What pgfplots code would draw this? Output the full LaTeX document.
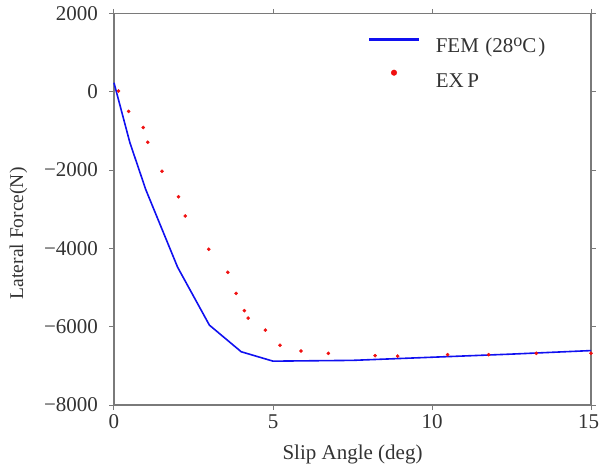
\documentclass[border=0pt]{standalone}
\usepackage{fontspec}
\setmainfont{Liberation Serif}
\usepackage{pgfplots}
\pgfplotsset{compat=1.18}
\definecolor{axisgray}{HTML}{7A7A7A}
\definecolor{labelgray}{HTML}{333333}
\definecolor{femblue}{HTML}{1010F0}
\definecolor{expred}{HTML}{F01010}
\newcommand{\bigfont}{\fontsize{21}{24}\selectfont}
\pgfplotsset{
  femlegend/.style={legend image code/.code={\fill[femblue] (0pt,5.4pt) rectangle (48pt,6.6pt);}},
  explegend/.style={legend image code/.code={\fill[expred] (24pt,9pt) circle (2.8pt);}},
}

\begin{document}
\begin{tikzpicture}
  \path[use as bounding box] (-114pt,-63pt) rectangle (485pt,405pt);
  \begin{axis}[
      at={(0,0)}, anchor=south west,
      scale only axis,
      width=477pt, height=391.5pt,
      xmin=0, xmax=15, ymin=-8000, ymax=2000,
      xtick={0,5,10,15},
      xticklabels={0,5,10,\hspace*{-5pt}15},
      ytick={-8000,-6000,-4000,-2000,0,2000},
      yticklabels={−8000,−6000,−4000,−2000,0,2000},
      /pgf/number format/assume math mode=true,
      scaled ticks=false,
      tick align=outside,
      major tick length=4.5pt,
      axis line style={axisgray, line width=1.2pt},
      tick style={axisgray, line width=1pt},
      tick label style={font=\bigfont, text=labelgray},
      yticklabel style={xshift=-8pt},
      xticklabel style={yshift=-2pt},
      label style={font=\bigfont, text=labelgray},
      xlabel={Slip Angle (deg)},
      ylabel={Lateral Force(N)},
      ylabel style={font=\fontsize{19.5}{22}\selectfont, yshift=10pt, xshift=-24pt},
      xlabel style={yshift=-9pt},
      legend style={draw=none, fill=none, font=\bigfont,
        at={(0.5346,0.944)}, anchor=north west, inner sep=0pt,
        row sep=14pt,
        /tikz/every odd column/.append style={column sep=15pt}},
      legend cell align=left,
      clip=false,
    ]
    \addplot[femblue, line width=1.6pt, femlegend]
      coordinates {
      (0,230) (0.5,-1300) (1,-2500) (2,-4480) (3,-5960) (4,-6640)
      (5,-6880) (7.5,-6860) (10,-6780) (12.5,-6700) (15,-6610)
    };
    \addlegendentry{\textcolor{labelgray}{FEM\hspace{0.3em}(28\raisebox{0.55ex}{\fontsize{18}{18}\selectfont o}C\hspace{0.1em})}}
    \addplot[only marks, mark=*, mark size=1.6pt, expred, mark options={draw=expred, fill=expred}, explegend]
      coordinates {
      (0.14,20) (0.46,-500) (0.92,-910) (1.06,-1290) (1.51,-2030)
      (2.03,-2680) (2.24,-3170) (2.98,-4020) (3.58,-4610) (3.84,-5150)
      (4.10,-5590) (4.22,-5780) (4.76,-6085) (5.22,-6475) (5.88,-6620)
      (6.74,-6680) (8.21,-6740) (8.92,-6750) (10.49,-6715) (11.78,-6715)
      (13.28,-6680) (15.0,-6680)
    };
    \addlegendentry{\textcolor{labelgray}{EX\,P}}
  \end{axis}
\end{tikzpicture}
\end{document}
